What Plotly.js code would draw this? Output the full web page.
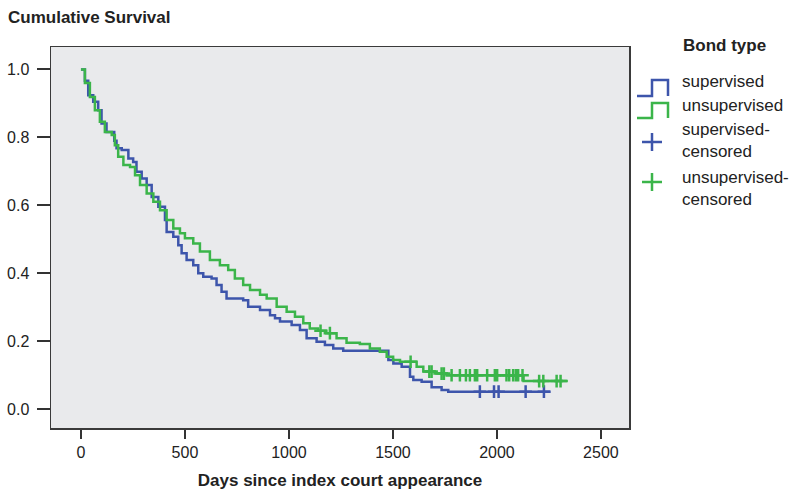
<!DOCTYPE html>
<html>
<head>
<meta charset="utf-8">
<script src="https://cdn.plot.ly/plotly-3.0.1.min.js"></script>
<style>html,body{margin:0;padding:0;background:#fff;}#chart{width:790px;height:495px;}</style>
</head>
<body>
<div id="chart"></div>
<script>
// ---- data ----
const supervisedDays = [0,19,35,59,83,99,123,160,171,196,228,251,267,292,316,340,372,404,412,444,468,484,508,540,564,588,628,652,676,700,780,804,861,909,933,957,1013,1053,1085,1133,1173,1213,1261,1478,1502,1542,1582,1598,1638,1686,1734,1766,2258];
const supervisedSurv = [1.0,0.967,0.924,0.905,0.88,0.841,0.816,0.79,0.768,0.763,0.738,0.728,0.699,0.679,0.66,0.625,0.596,0.557,0.522,0.508,0.483,0.459,0.439,0.424,0.4,0.39,0.385,0.366,0.346,0.326,0.321,0.302,0.292,0.277,0.268,0.258,0.248,0.233,0.209,0.199,0.189,0.179,0.172,0.145,0.135,0.125,0.096,0.086,0.081,0.065,0.057,0.052,0.052];

const unsupervisedDays = [0,19,43,67,91,115,148,163,179,204,236,260,284,316,348,380,412,444,476,500,540,572,620,668,708,740,780,813,861,893,941,989,1029,1069,1100,1140,1180,1229,1277,1341,1389,1437,1470,1501,1534,1614,1646,1700,1760,2128,2341];
const unsupervisedSurv = [1.0,0.96,0.919,0.88,0.846,0.816,0.807,0.777,0.743,0.719,0.713,0.689,0.66,0.635,0.611,0.586,0.557,0.532,0.518,0.503,0.488,0.464,0.439,0.424,0.41,0.385,0.366,0.351,0.337,0.326,0.302,0.287,0.272,0.253,0.238,0.231,0.224,0.209,0.196,0.192,0.179,0.169,0.155,0.145,0.14,0.125,0.111,0.105,0.1,0.083,0.083];

const supervisedCensDays = [1918,1986,2008,2138,2226];
const supervisedCensSurv = [0.052,0.052,0.052,0.052,0.052];

const unsupervisedCensDays = [1152,1197,1585,1675,1686,1734,1745,1782,1822,1851,1870,1894,1905,1953,1990,2001,2046,2059,2078,2091,2102,2123,2203,2223,2287,2306];
const unsupervisedCensSurv = [0.231,0.224,0.14,0.111,0.111,0.105,0.105,0.1,0.1,0.1,0.1,0.1,0.1,0.1,0.1,0.1,0.1,0.1,0.1,0.1,0.1,0.1,0.083,0.083,0.083,0.083];

const xTicks = [0,500,1000,1500,2000,2500];
const yTicks = [0,0.2,0.4,0.6,0.8,1.0];
const yTickText = ['0.0','0.2','0.4','0.6','0.8','1.0'];
const legendLabels = ['supervised','unsupervised','supervised-<br>censored','unsupervised-<br>censored'];

// ---- styling ----
const BLUE = '#3d55ab';
const GREEN = '#3bb54a';
const FONT = '"Liberation Sans", Arial, sans-serif';
const W = 790, H = 495, ML = 51, MR = 161, MT = 47, MB = 67;
const PW = W - ML - MR, PH = H - MT - MB;
const px = x => (x - ML) / PW;
const py = y => (H - MB - y) / PH;

const traces = [
  {x: supervisedDays, y: supervisedSurv, type: 'scatter', mode: 'lines', name: 'supervised',
   line: {color: BLUE, width: 2.5, shape: 'hv'}, showlegend: false},
  {x: unsupervisedDays, y: unsupervisedSurv, type: 'scatter', mode: 'lines', name: 'unsupervised',
   line: {color: GREEN, width: 2.5, shape: 'hv'}, showlegend: false},
  {x: supervisedCensDays, y: supervisedCensSurv, type: 'scatter', mode: 'markers', name: 'supervised-censored',
   marker: {symbol: 'cross-thin', size: 9, line: {color: BLUE, width: 2.5}}, showlegend: false},
  {x: unsupervisedCensDays, y: unsupervisedCensSurv, type: 'scatter', mode: 'markers', name: 'unsupervised-censored',
   marker: {symbol: 'cross-thin', size: 9, line: {color: GREEN, width: 2.5}}, showlegend: false}
];

function pathPx(pts) {
  return pts.map((p, i) => (i ? 'L' : 'M') + px(p[0]) + ',' + py(p[1])).join(' ');
}

const shapes = [
  {type: 'path', xref: 'paper', yref: 'paper', path: pathPx([[637,96],[652,96],[652,80],[668,80],[668,96]]), line: {color: BLUE, width: 2.5}},
  {type: 'path', xref: 'paper', yref: 'paper', path: pathPx([[637,118],[652,118],[652,103],[668,103],[668,118]]), line: {color: GREEN, width: 2.5}},
  {type: 'line', xref: 'paper', yref: 'paper', x0: px(642), x1: px(662), y0: py(142), y1: py(142), line: {color: BLUE, width: 2.5}},
  {type: 'line', xref: 'paper', yref: 'paper', x0: px(652), x1: px(652), y0: py(133), y1: py(151), line: {color: BLUE, width: 2.5}},
  {type: 'line', xref: 'paper', yref: 'paper', x0: px(642), x1: px(662), y0: py(182), y1: py(182), line: {color: GREEN, width: 2.5}},
  {type: 'line', xref: 'paper', yref: 'paper', x0: px(652), x1: px(652), y0: py(173), y1: py(191), line: {color: GREEN, width: 2.5}}
];

const legendY = [81, 105, 140, 188];
const annotations = [
  {text: '<b>Bond type</b>', xref: 'paper', yref: 'paper', x: px(681), y: py(45), xanchor: 'left', yanchor: 'middle',
   showarrow: false, font: {family: FONT, size: 17, color: '#222'}}
].concat(legendLabels.map((t, i) => ({
  text: t, xref: 'paper', yref: 'paper', x: px(680), y: py(legendY[i]), xanchor: 'left', yanchor: 'middle', align: 'left',
  showarrow: false, font: {family: FONT, size: 17, color: '#222'}
})));

const layout = {
  width: W, height: H,
  margin: {l: ML, r: MR, t: MT, b: MB, pad: 0},
  paper_bgcolor: '#ffffff',
  plot_bgcolor: '#e9eaec',
  font: {family: FONT, size: 16, color: '#222'},
  title: {text: '<b>Cumulative Survival</b>', font: {family: FONT, size: 17, color: '#222'},
          xref: 'container', yref: 'container', x: 8 / W, xanchor: 'left', y: 1 - 17 / H, yanchor: 'middle'},
  xaxis: {range: [-144, 2635], tickvals: xTicks, ticks: 'outside', ticklen: 9, tickwidth: 2, tickcolor: '#333',
          showline: true, mirror: true, linecolor: '#3a3a3a', linewidth: 1.5, showgrid: false, zeroline: false,
          tickfont: {family: FONT, size: 16, color: '#222'},
          title: {text: '<b>Days since index court appearance</b>', font: {family: FONT, size: 17, color: '#222'}, standoff: 14}},
  yaxis: {range: [-0.055, 1.066], tickvals: yTicks, ticktext: yTickText, ticks: 'outside', ticklen: 13, tickwidth: 2, tickcolor: '#333',
          showline: true, mirror: true, linecolor: '#3a3a3a', linewidth: 1.5, showgrid: false, zeroline: false,
          tickfont: {family: FONT, size: 16, color: '#222'}, ticklabelstandoff: 4},
  showlegend: false,
  shapes: shapes,
  annotations: annotations
};

Plotly.newPlot('chart', traces, layout, {displayModeBar: false, staticPlot: true});
</script>
</body>
</html>
